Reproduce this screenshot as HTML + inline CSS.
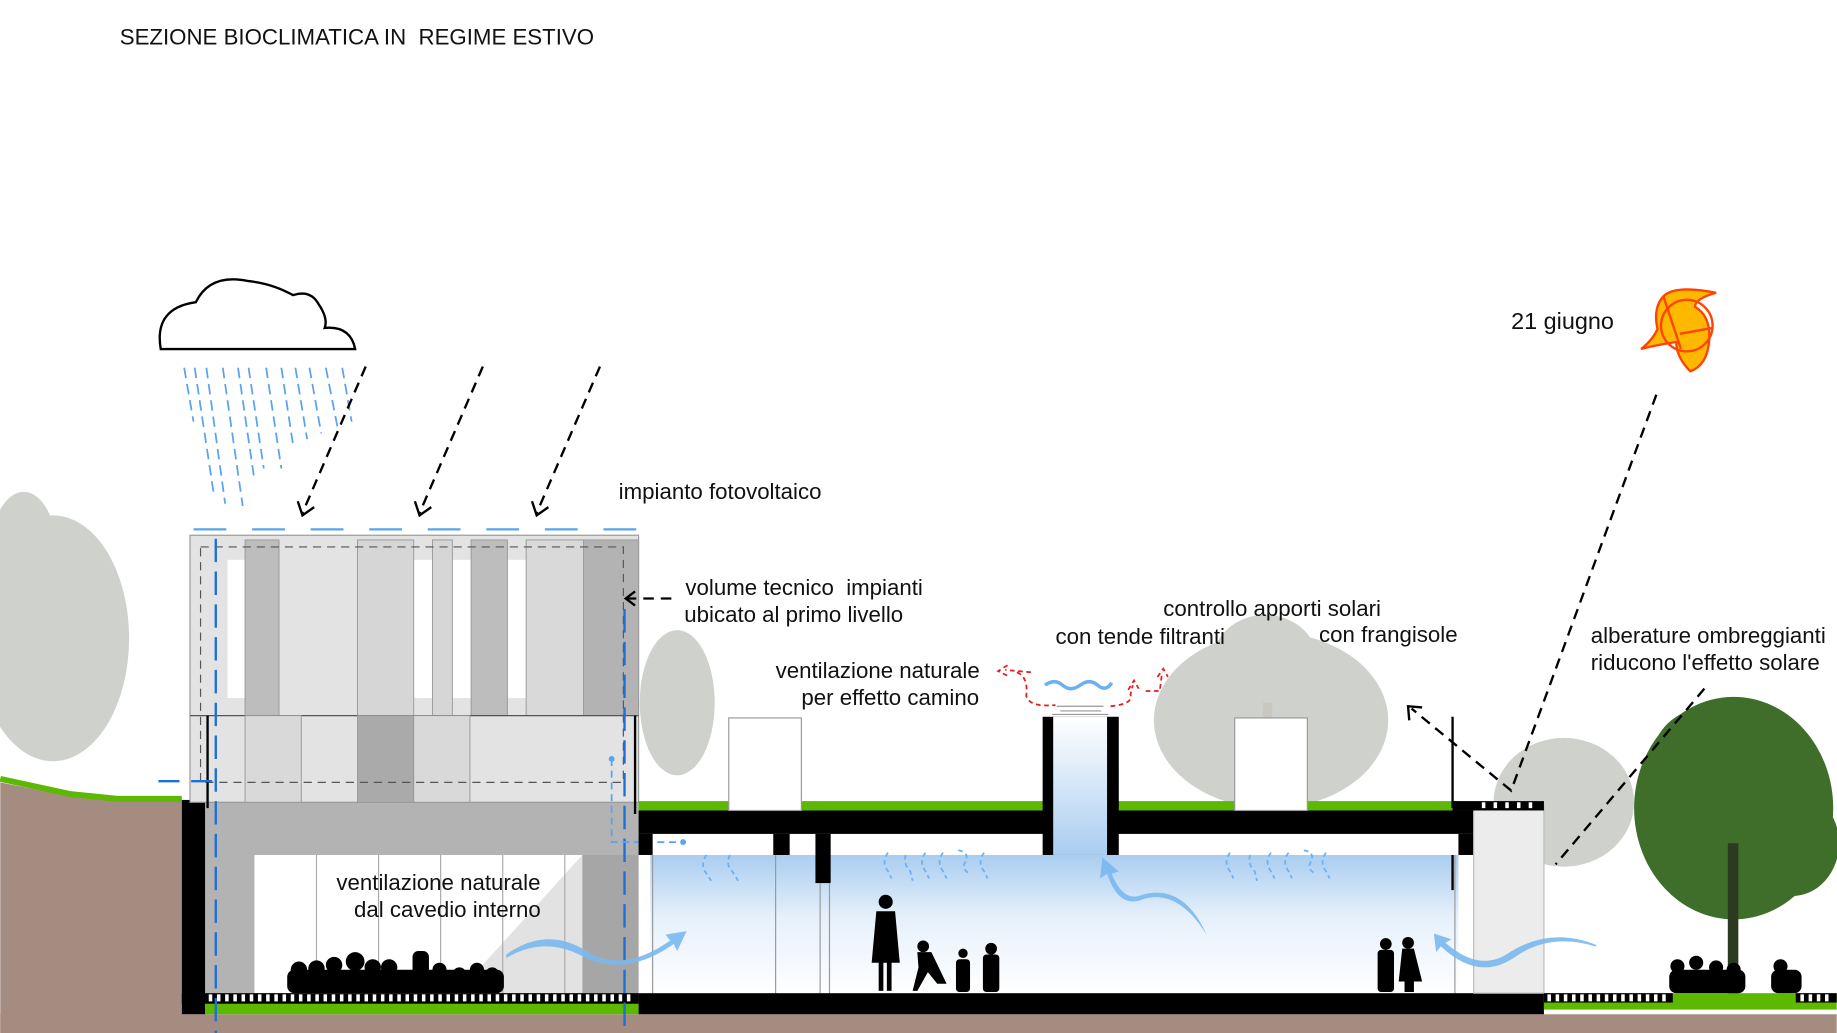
<!DOCTYPE html>
<html><head><meta charset="utf-8"><style>
html,body{margin:0;padding:0;background:#fff;overflow:hidden}
svg{display:block}
text{font-family:"Liberation Sans",sans-serif;fill:#111}
</style></head><body>
<svg width="1837" height="1033" viewBox="0 0 1568 882" xmlns="http://www.w3.org/2000/svg">
<defs>
<linearGradient id="sky" x1="0" y1="0" x2="0" y2="1"><stop offset="0" stop-color="#a9cdf0"/><stop offset="0.45" stop-color="#e6f0fb"/><stop offset="1" stop-color="#fff"/></linearGradient>
<linearGradient id="chim" x1="0" y1="0" x2="0" y2="1"><stop offset="0" stop-color="#fff"/><stop offset="1" stop-color="#a9cdf0"/></linearGradient>
</defs>
<rect width="1568" height="882" fill="#fff"/>
<text x="102" y="38" font-size="19" xml:space="preserve">SEZIONE BIOCLIMATICA IN  REGIME ESTIVO</text>

<!-- foggy trees -->
<g fill="#a7aca3" opacity="0.55">
<ellipse cx="45" cy="545" rx="65" ry="105"/><ellipse cx="20" cy="470" rx="28" ry="50"/>
<ellipse cx="578" cy="600" rx="32" ry="62"/>
<ellipse cx="1085" cy="615" rx="100" ry="75"/><ellipse cx="1080" cy="565" rx="45" ry="40"/>
<ellipse cx="1335" cy="685" rx="60" ry="55"/>
</g>
<rect x="1078" y="600" width="8" height="90" fill="#c8c8c0"/>
<!-- dark green tree -->
<g fill="#3f6e2a"><ellipse cx="1480" cy="690" rx="85" ry="95"/><ellipse cx="1455" cy="650" rx="45" ry="45"/><ellipse cx="1530" cy="720" rx="40" ry="45"/></g>
<rect x="1475" y="720" width="9" height="130" fill="#2b3a20"/>

<!-- ground -->
<path d="M0,668 L60,680 L100,684 L155,684 L155,882 L0,882Z" fill="#a48d80"/>
<path d="M0,665 L60,678 L100,682 L155,682" stroke="#5cb800" stroke-width="5" fill="none"/>
<rect x="0" y="866" width="1568" height="16" fill="#a48d80"/>

<!-- left building -->
<rect x="155" y="683" width="20" height="183" fill="#000"/>
<rect x="175" y="685" width="370" height="163" fill="#b3b3b3"/>
<rect x="217" y="730" width="280" height="118" fill="#fff"/>
<polygon points="390,848 497,730 497,848" fill="#e2e2e2"/>
<rect x="497" y="730" width="48" height="118" fill="#a6a6a6"/>
<g stroke="#aaa" stroke-width="1"><line x1="270" y1="730" x2="270" y2="848"/><line x1="323" y1="730" x2="323" y2="848"/><line x1="376" y1="730" x2="376" y2="848"/><line x1="429" y1="730" x2="429" y2="848"/><line x1="482" y1="730" x2="482" y2="848"/></g>
<rect x="175" y="848" width="370" height="18" fill="#5cb800"/>
<rect x="155" y="848" width="390" height="9" fill="#000"/>
<g fill="#fff">
<rect x="178" y="849" width="3" height="6"/><rect x="185" y="849" width="3" height="6"/><rect x="192" y="849" width="3" height="6"/><rect x="199" y="849" width="3" height="6"/><rect x="206" y="849" width="3" height="6"/><rect x="213" y="849" width="3" height="6"/><rect x="220" y="849" width="3" height="6"/><rect x="227" y="849" width="3" height="6"/><rect x="234" y="849" width="3" height="6"/><rect x="241" y="849" width="3" height="6"/><rect x="248" y="849" width="3" height="6"/><rect x="255" y="849" width="3" height="6"/><rect x="262" y="849" width="3" height="6"/><rect x="269" y="849" width="3" height="6"/><rect x="276" y="849" width="3" height="6"/><rect x="283" y="849" width="3" height="6"/><rect x="290" y="849" width="3" height="6"/><rect x="297" y="849" width="3" height="6"/><rect x="304" y="849" width="3" height="6"/><rect x="311" y="849" width="3" height="6"/><rect x="318" y="849" width="3" height="6"/><rect x="325" y="849" width="3" height="6"/><rect x="332" y="849" width="3" height="6"/><rect x="339" y="849" width="3" height="6"/><rect x="346" y="849" width="3" height="6"/><rect x="353" y="849" width="3" height="6"/><rect x="360" y="849" width="3" height="6"/><rect x="367" y="849" width="3" height="6"/><rect x="374" y="849" width="3" height="6"/><rect x="381" y="849" width="3" height="6"/><rect x="388" y="849" width="3" height="6"/><rect x="395" y="849" width="3" height="6"/><rect x="402" y="849" width="3" height="6"/><rect x="409" y="849" width="3" height="6"/><rect x="416" y="849" width="3" height="6"/><rect x="423" y="849" width="3" height="6"/><rect x="430" y="849" width="3" height="6"/><rect x="437" y="849" width="3" height="6"/><rect x="444" y="849" width="3" height="6"/><rect x="451" y="849" width="3" height="6"/><rect x="458" y="849" width="3" height="6"/><rect x="465" y="849" width="3" height="6"/><rect x="472" y="849" width="3" height="6"/><rect x="479" y="849" width="3" height="6"/><rect x="486" y="849" width="3" height="6"/><rect x="493" y="849" width="3" height="6"/><rect x="500" y="849" width="3" height="6"/><rect x="507" y="849" width="3" height="6"/><rect x="514" y="849" width="3" height="6"/><rect x="521" y="849" width="3" height="6"/><rect x="528" y="849" width="3" height="6"/><rect x="535" y="849" width="3" height="6"/>
</g>
<!-- crowd -->
<g fill="#000"><rect x="245" y="828" width="185" height="20" rx="6"/>
<circle cx="255" cy="828" r="7"/><circle cx="270" cy="827" r="7"/><circle cx="285" cy="824" r="7"/><circle cx="303" cy="821" r="8"/><circle cx="318" cy="826" r="7"/><circle cx="332" cy="826" r="7"/><rect x="352" y="812" width="14" height="36" rx="5"/><circle cx="375" cy="828" r="6"/><circle cx="392" cy="832" r="6"/><circle cx="407" cy="828" r="6"/><circle cx="420" cy="832" r="6"/></g>

<!-- upper volume -->
<rect x="162" y="457" width="383" height="228" fill="#e3e3e3" stroke="#999"/>
<g fill="#fff"><rect x="194" y="478" width="16" height="118"/><rect x="353" y="478" width="16" height="118"/><rect x="386" y="478" width="16" height="118"/><rect x="433" y="478" width="16" height="118"/></g>
<g fill="#bdbdbd" stroke="#999" stroke-width="0.8"><rect x="209" y="461" width="29" height="150"/><rect x="402" y="461" width="31" height="150"/><rect x="498" y="461" width="47" height="150" fill="#b3b3b3"/><rect x="305" y="461" width="48" height="150" fill="#d6d6d6"/><rect x="369" y="461" width="17" height="150" fill="#d6d6d6"/><rect x="449" y="461" width="49" height="150" fill="#d9d9d9"/></g>
<line x1="162" y1="611" x2="545" y2="611" stroke="#555"/>
<g fill="#d9d9d9" stroke="#999" stroke-width="0.8"><rect x="209" y="611" width="48" height="74"/><rect x="305" y="611" width="48" height="74" fill="#aaa"/><rect x="353" y="611" width="48" height="74"/></g>
<rect x="171" y="467" width="361" height="201" fill="none" stroke="#555" stroke-dasharray="7,5"/>
<line x1="177" y1="611" x2="177" y2="690" stroke="#000" stroke-width="2"/>
<line x1="542" y1="611" x2="542" y2="695" stroke="#000" stroke-width="2"/>
<!-- blue dashed -->
<line x1="165" y1="452" x2="545" y2="452" stroke="#5aa3ee" stroke-width="2" stroke-dasharray="28,22"/>
<line x1="184" y1="460" x2="184" y2="882" stroke="#1b6fd6" stroke-width="2" stroke-dasharray="20,8"/>
<line x1="533" y1="520" x2="533" y2="882" stroke="#1b6fd6" stroke-width="2" stroke-dasharray="20,8"/>
<line x1="135" y1="667" x2="185" y2="667" stroke="#1b6fd6" stroke-width="2" stroke-dasharray="18,10"/>
<path d="M522,648 L522,719 L583,719" stroke="#5aa3ee" stroke-width="1.5" stroke-dasharray="6,4" fill="none"/>
<circle cx="522" cy="648" r="2.5" fill="#5aa3ee"/><circle cx="583" cy="719" r="2.5" fill="#5aa3ee"/>

<!-- right building -->
<rect x="545" y="684" width="700" height="8" fill="#5cb800"/>
<rect x="545" y="692" width="715" height="20" fill="#000"/>
<rect x="545" y="712" width="12" height="18" fill="#000"/>
<rect x="1245" y="712" width="15" height="18" fill="#000"/>
<rect x="555" y="730" width="690" height="118" fill="url(#sky)"/>
<rect x="660" y="712" width="14" height="18" fill="#000"/>
<rect x="696" y="712" width="13" height="42" fill="#000"/>
<g stroke="#999"><line x1="557" y1="730" x2="557" y2="848"/><line x1="662" y1="730" x2="662" y2="848"/><line x1="700" y1="754" x2="700" y2="848"/><line x1="708" y1="754" x2="708" y2="848"/><line x1="1242" y1="730" x2="1242" y2="848"/></g>
<rect x="545" y="848" width="773" height="18" fill="#000"/>
<!-- chimney -->
<rect x="890" y="612" width="65" height="118" fill="#000"/>
<rect x="899" y="612" width="46" height="118" fill="url(#chim)"/>
<g stroke="#999"><line x1="902" y1="603" x2="942" y2="603"/><line x1="905" y1="607" x2="940" y2="607"/><line x1="898" y1="610" x2="946" y2="610"/></g>
<path d="M892,585 q8,-6 15,0 t15,0 t15,0 t12,-2" stroke="#6db0ef" stroke-width="3" fill="none"/>
<path d="M880,574 L858,572 M860,568 L852,573 L860,577 M868,574 q10,4 8,20 q2,10 25,8 M948,603 q20,-2 17,-10 L967,585 M963,589 L968,581 L972,588 M978,590 L990,590 L992,574 M988,578 L993,571 L997,578" stroke="#e02020" stroke-width="1.5" stroke-dasharray="4,3" fill="none"/>
<!-- roof boxes -->
<rect x="622" y="613" width="62" height="79" fill="#fff" stroke="#999"/>
<rect x="1054" y="613" width="62" height="79" fill="#fff" stroke="#999"/>
<!-- right pavilion -->
<rect x="1258" y="688" width="60" height="160" fill="#ececec" stroke="#bbb"/>
<rect x="1240" y="684" width="78" height="8" fill="#000"/>
<g fill="#fff"><rect x="1265" y="685" width="3" height="5"/><rect x="1275" y="685" width="3" height="5"/><rect x="1285" y="685" width="3" height="5"/><rect x="1295" y="685" width="3" height="5"/><rect x="1305" y="685" width="3" height="5"/></g>
<line x1="1240" y1="612" x2="1240" y2="690" stroke="#000" stroke-width="2"/>
<line x1="1240" y1="730" x2="1240" y2="760" stroke="#000" stroke-width="2"/>
<!-- right ground -->
<rect x="1318" y="848" width="250" height="14" fill="#5cb800"/>
<rect x="1318" y="848" width="110" height="8" fill="#000"/><rect x="1533" y="848" width="35" height="8" fill="#000"/>
<g fill="#fff"><rect x="1321" y="849" width="3" height="6"/><rect x="1328" y="849" width="3" height="6"/><rect x="1335" y="849" width="3" height="6"/><rect x="1342" y="849" width="3" height="6"/><rect x="1349" y="849" width="3" height="6"/><rect x="1356" y="849" width="3" height="6"/><rect x="1363" y="849" width="3" height="6"/><rect x="1370" y="849" width="3" height="6"/><rect x="1377" y="849" width="3" height="6"/><rect x="1384" y="849" width="3" height="6"/><rect x="1391" y="849" width="3" height="6"/><rect x="1398" y="849" width="3" height="6"/><rect x="1405" y="849" width="3" height="6"/><rect x="1412" y="849" width="3" height="6"/><rect x="1419" y="849" width="3" height="6"/><rect x="1537" y="849" width="3" height="6"/><rect x="1544" y="849" width="3" height="6"/><rect x="1551" y="849" width="3" height="6"/><rect x="1558" y="849" width="3" height="6"/></g>
<g fill="#000"><rect x="1425" y="828" width="65" height="20" rx="6"/><circle cx="1432" cy="825" r="6"/><circle cx="1448" cy="822" r="6"/><circle cx="1465" cy="826" r="6"/><circle cx="1480" cy="828" r="6"/><rect x="1512" y="828" width="26" height="20" rx="6"/><circle cx="1520" cy="825" r="6"/></g>

<!-- people in right building -->
<g fill="#000">
<circle cx="756" cy="770" r="6"/><path d="M748,778 L764,778 L768,822 L744,822Z"/><rect x="750" y="820" width="4" height="26"/><rect x="757" y="820" width="4" height="26"/>
<circle cx="788" cy="808" r="5"/><path d="M783,813 L795,813 L808,840 L800,840 L792,830 L783,846 L779,846 L784,826Z"/>
<circle cx="822" cy="814" r="4"/><rect x="816" y="819" width="12" height="28" rx="3"/>
<circle cx="846" cy="810" r="5"/><rect x="839" y="815" width="14" height="32" rx="3"/>
<circle cx="1183" cy="806" r="5"/><rect x="1176" y="811" width="14" height="36" rx="3"/>
<circle cx="1202" cy="805" r="5"/><path d="M1197,810 L1207,810 L1214,838 L1194,838Z"/><rect x="1199" y="836" width="8" height="11"/>
</g>

<!-- cool air arrows small -->
<g stroke="#6db0ef" stroke-width="1.5" stroke-dasharray="4,3" fill="none">
<path d="M603,730 q-6,8 0,16 l4,6"/><path d="M623,730 q-4,8 2,14 l5,8"/>
<path d="M758,728 q-6,8 0,16 l3,6"/><path d="M773,730 q-2,8 4,14 l2,8"/><path d="M790,728 q-6,8 0,16 l3,6"/><path d="M805,728 q-6,8 0,16 l3,6"/><path d="M818,726 q10,2 6,10 q-4,6 4,10"/><path d="M840,728 q-6,8 0,16 l3,6"/>
<path d="M1050,728 q-6,8 0,16 l3,6"/><path d="M1067,730 q-2,8 4,14 l2,8"/><path d="M1085,728 q-6,8 0,16 l3,6"/><path d="M1100,728 q-6,8 0,16 l3,6"/><path d="M1113,726 q10,2 6,10 q-4,6 4,10"/><path d="M1132,728 q-6,8 0,16 l3,6"/>
</g>
<!-- big blue wave arrows -->
<g fill="#7ab8f0" opacity="0.9">
<path d="M432,815 q35,-25 70,-2 q30,18 70,-10 l-4,-5 l18,-3 l-8,17 l-3,-6 q-40,28 -75,12 q-35,-20 -68,0Z"/>
<path d="M1030,798 q-25,-40 -55,-30 q-20,8 -30,-22 l-6,4 l2,-18 l14,12 l-6,2 q10,25 26,18 q35,-10 55,34Z"/>
<path d="M1362,808 q-40,-12 -70,10 q-30,20 -62,-10 l-4,5 l-2,-16 l15,5 l-5,3 q30,26 55,8 q35,-22 74,-6Z"/>
</g>

<!-- cloud & rain -->
<path d="M137,298 q-6,-35 30,-40 q12,-25 45,-18 q20,2 38,12 q15,-5 22,8 q8,12 5,20 q22,-2 26,18 Z" fill="#fff" stroke="#000" stroke-width="2"/>
<g stroke="#5aa3ee" stroke-width="1.5" stroke-dasharray="9,5">
<line x1="157" y1="314" x2="165" y2="360"/><line x1="166" y1="314" x2="182" y2="420"/><line x1="176" y1="314" x2="192" y2="430"/><line x1="190" y1="314" x2="207" y2="432"/><line x1="203" y1="314" x2="217" y2="410"/><line x1="212" y1="314" x2="225" y2="400"/><line x1="227" y1="314" x2="240" y2="400"/><line x1="240" y1="314" x2="250" y2="380"/><line x1="252" y1="314" x2="262" y2="375"/><line x1="264" y1="314" x2="274" y2="370"/><line x1="278" y1="314" x2="288" y2="365"/><line x1="292" y1="314" x2="300" y2="360"/>
</g>
<!-- black dashed arrows -->
<g stroke="#000" stroke-width="2" fill="none">
<path d="M312,313 L258,438" stroke-dasharray="9,6"/><path d="M254,428 L258,440 L268,433"/>
<path d="M412,313 L358,438" stroke-dasharray="9,6"/><path d="M354,428 L358,440 L368,433"/>
<path d="M512,313 L458,438" stroke-dasharray="9,6"/><path d="M454,428 L458,440 L468,433"/>
<path d="M573,511 L535,511" stroke-dasharray="9,6"/><path d="M542,505 L534,511 L542,517"/>
<path d="M1414,337 L1290,675 L1205,605" stroke-dasharray="9,6"/><path d="M1203,615 L1202,603 L1214,604"/>
<path d="M1455,588 L1328,738" stroke-dasharray="9,6"/>
</g>
<!-- sun -->
<g stroke="#ff4400" stroke-width="2" fill="#ffb800">
<path d="M1420,253 q10,-10 45,-3 q-18,5 -18,12 q14,8 12,30 q-2,20 -16,25 q-12,-12 -12,-25 q-15,2 -30,6 q10,-8 14,-17 q-4,-18 5,-28Z"/>
<circle cx="1440" cy="278" r="22" fill="none"/><path d="M1420,253 L1435,298 M1434,285 L1462,280" fill="none"/>
</g>

<!-- labels -->
<g font-size="19">
<text x="528" y="426">impianto fotovoltaico</text>
<text x="585" y="508" xml:space="preserve">volume tecnico  impianti</text>
<text x="584" y="531">ubicato al primo livello</text>
<text x="993" y="526">controllo apporti solari</text>
<text x="901" y="550">con tende filtranti</text>
<text x="1126" y="548">con frangisole</text>
<text x="662" y="579">ventilazione naturale</text>
<text x="684" y="602">per effetto camino</text>
<text x="1358" y="549">alberature ombreggianti</text>
<text x="1358" y="572">riducono l'effetto solare</text>
<text x="287" y="760">ventilazione naturale</text>
<text x="302" y="783">dal cavedio interno</text>
<text x="1290" y="281" font-size="20">21 giugno</text>
</g>
</svg>
</body></html>
